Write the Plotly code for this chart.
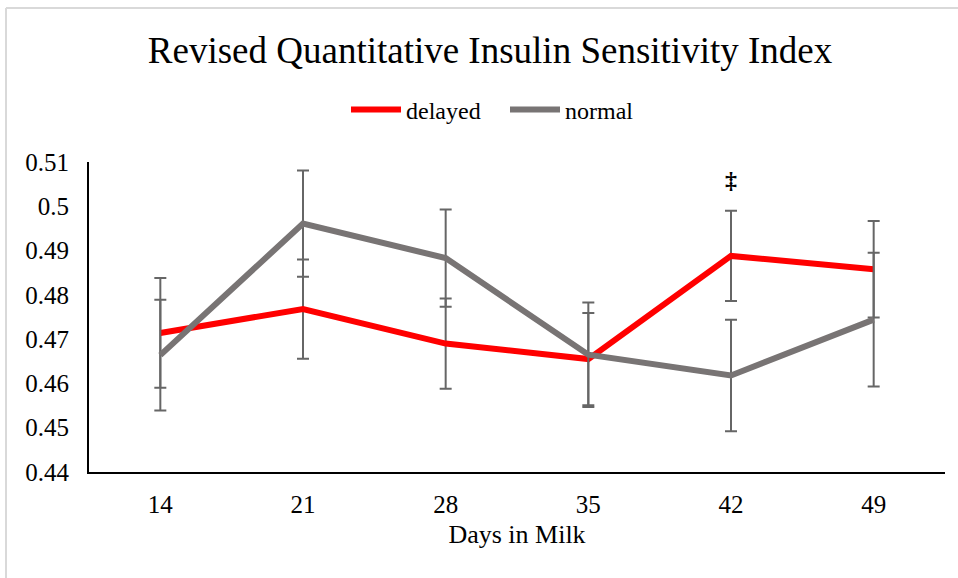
import plotly.graph_objects as go

days = [14, 21, 28, 35, 42, 49]
delayed = [0.4714, 0.4768, 0.4690, 0.4655, 0.4888, 0.4858]
delayed_err = [0.0124, 0.0112, 0.0102, 0.0104, 0.0102, 0.0109]
normal = [0.4664, 0.4961, 0.4883, 0.4665, 0.4618, 0.4744]
normal_err = [0.0125, 0.0120, 0.0110, 0.0118, 0.0126, 0.0151]
y_ticks = [0.44, 0.45, 0.46, 0.47, 0.48, 0.49, 0.50, 0.51]
y_tick_text = ["0.44", "0.45", "0.46", "0.47", "0.48", "0.49", "0.5", "0.51"]
sig_day = 42
sig_y = 0.5059

FONT = "Liberation Serif"
ERR_COLOR = "#666666"

fig = go.Figure()
fig.add_trace(go.Scatter(
    x=days, y=delayed, name="delayed", mode="lines",
    line=dict(color="#ff0000", width=6),
    error_y=dict(type="data", array=delayed_err, visible=True,
                 color=ERR_COLOR, thickness=2, width=6),
))
fig.add_trace(go.Scatter(
    x=days, y=normal, name="normal", mode="lines",
    line=dict(color="#787474", width=6),
    error_y=dict(type="data", array=normal_err, visible=True,
                 color=ERR_COLOR, thickness=2, width=6),
))

fig.add_annotation(x=sig_day, y=sig_y, text="<b>‡</b>", showarrow=False,
                   font=dict(family=FONT, size=24, color="#000"))

L, R, T, B = 89, 13, 162, 106
W, H = 958, 578
pw, ph = W - L - R, H - T - B
def px_x(p):
    return (p - L) / pw
def px_y(p):
    return (H - B - p) / ph

fig.add_shape(type="line", xref="paper", yref="paper",
              x0=px_x(6), x1=px_x(965), y0=px_y(8), y1=px_y(8),
              line=dict(color="#d9d9d9", width=2))
fig.add_shape(type="line", xref="paper", yref="paper",
              x0=px_x(6), x1=px_x(6), y0=px_y(8), y1=px_y(590),
              line=dict(color="#d9d9d9", width=2))

fig.update_layout(
    width=W, height=H,
    margin=dict(l=L, r=R, t=T, b=B),
    paper_bgcolor="white", plot_bgcolor="white",
    font=dict(family=FONT, color="#000"),
    title=dict(text="Revised Quantitative Insulin Sensitivity Index",
               x=490 / W, xanchor="center", y=1 - 50 / H, yanchor="middle",
               font=dict(family=FONT, size=37, color="#000")),
    showlegend=True,
    legend=dict(orientation="h", x=px_x(346), xanchor="left",
                y=px_y(110), yanchor="middle",
                font=dict(family=FONT, size=24, color="#000"),
                bgcolor="rgba(0,0,0,0)", itemwidth=50,
                entrywidth=94, entrywidthmode="pixels"),
    xaxis=dict(range=[10.5, 52.5], tickvals=days, ticktext=[str(d) for d in days],
               showgrid=False, zeroline=False, showline=True, linecolor="#000",
               linewidth=2, ticks="", ticklabelstandoff=9,
               tickfont=dict(family=FONT, size=25, color="#000"),
               title=dict(text="Days in Milk", standoff=8,
                          font=dict(family=FONT, size=26, color="#000"))),
    yaxis=dict(range=[0.44, 0.51], tickvals=y_ticks, ticktext=y_tick_text,
               showgrid=False, zeroline=False, showline=True, linecolor="#000",
               linewidth=2, ticks="", ticklabelstandoff=13,
               tickfont=dict(family=FONT, size=25, color="#000")),
)

fig.write_html("out.html")
